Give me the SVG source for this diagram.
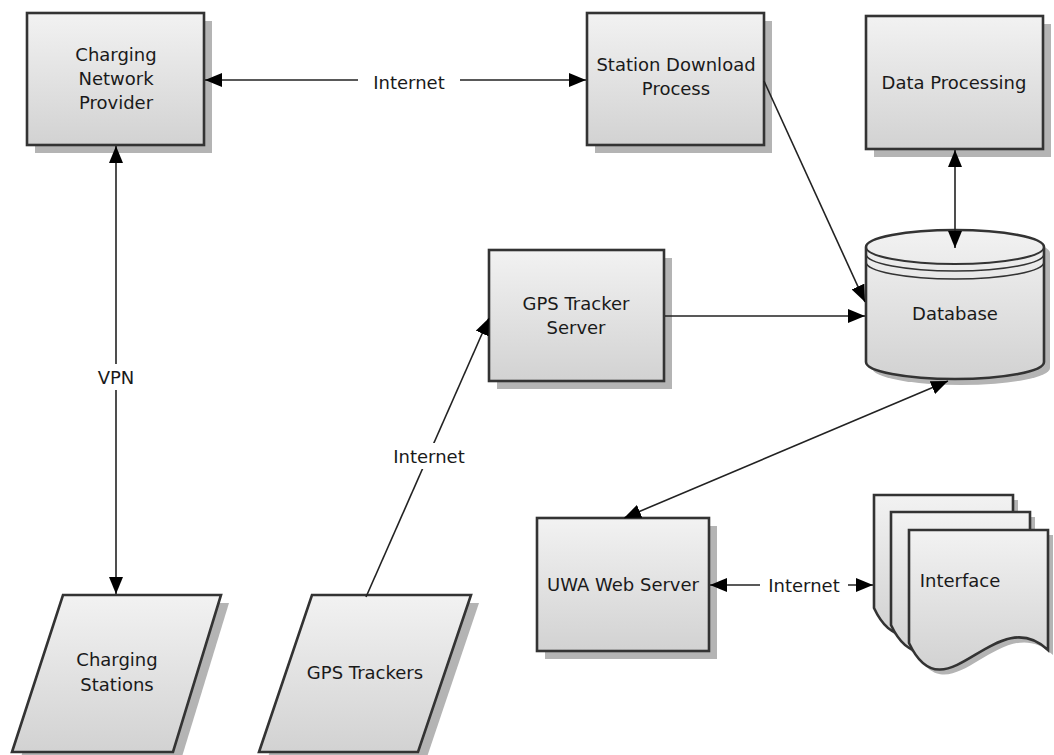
<svg xmlns="http://www.w3.org/2000/svg" width="1054" height="755" viewBox="0 0 1054 755">
<defs>
<linearGradient id="g" x1="0" y1="0" x2="0" y2="1">
<stop offset="0" stop-color="#f2f2f2"/>
<stop offset="1" stop-color="#d2d2d2"/>
</linearGradient>
<marker id="ah" markerUnits="userSpaceOnUse" markerWidth="17" markerHeight="14" viewBox="0 0 17 14" refX="17" refY="7" orient="auto-start-reverse">
<path d="M0,0 L17,7 L0,14 z" fill="#000"/>
</marker>
</defs>
<style>
.sh{fill:#b4b4b4;stroke:none}
.nd{fill:url(#g);stroke:#333;stroke-width:2.6}
.ln{fill:none;stroke:#222;stroke-width:1.6}
.t{font-family:"DejaVu Sans",Verdana,sans-serif;font-size:18px;fill:#1a1a1a;text-anchor:middle}
.bg{fill:#fff;stroke:none}
.dl{fill:none;stroke:#333;stroke-width:1.6}
</style>
<rect width="1054" height="755" fill="#fff"/>

<g id="charging-network-provider">
<rect class="sh" x="35" y="21" width="177" height="132"/>
<rect class="nd" x="27" y="13" width="177" height="132"/>
<text class="t" x="116" y="61">Charging</text>
<text class="t" x="116" y="85">Network</text>
<text class="t" x="116" y="109">Provider</text>
</g>

<g id="station-download-process">
<rect class="sh" x="595" y="21" width="177" height="132"/>
<rect class="nd" x="587" y="13" width="177" height="132"/>
<text class="t" x="676" y="71">Station Download</text>
<text class="t" x="676" y="95">Process</text>
</g>

<g id="data-processing">
<rect class="sh" x="874" y="24" width="177" height="133"/>
<rect class="nd" x="866" y="16" width="177" height="133"/>
<text class="t" x="954" y="89">Data Processing</text>
</g>

<g id="database">
<path class="sh" d="M872,253 V368 A89,17 0 0 0 1050,368 V253 A89,17 0 0 0 872,253 Z"/>
<path class="nd" d="M866,247 V362 A89,17 0 0 0 1044,362 V247 A89,17 0 0 0 866,247 Z"/>
<path class="dl" style="stroke-width:2" d="M866,247 A89,17 0 0 0 1044,247"/>
<path class="dl" d="M866,254 A89,17 0 0 0 1044,254"/>
<path class="dl" d="M866,262 A89,17 0 0 0 1044,262"/>
<text class="t" x="955" y="320">Database</text>
</g>

<g id="gps-tracker-server">
<rect class="sh" x="497" y="258" width="175" height="131"/>
<rect class="nd" x="489" y="250" width="175" height="131"/>
<text class="t" x="576" y="310">GPS Tracker</text>
<text class="t" x="576" y="334">Server</text>
</g>

<g id="uwa-web-server">
<rect class="sh" x="545" y="526" width="172" height="133"/>
<rect class="nd" x="537" y="518" width="172" height="133"/>
<text class="t" x="623" y="591">UWA Web Server</text>
</g>

<g id="interface">
<path class="sh" d="M879,500 H1018 V620 C969,570 915,690 879,613 Z"/>
<path class="nd" d="M874,495 H1013 V615 C964,565 910,685 874,608 Z"/>
<path class="sh" d="M896,517 H1035 V637 C986,587 932,707 896,630 Z"/>
<path class="nd" d="M891,512 H1030 V632 C981,582 927,702 891,625 Z"/>
<path class="sh" d="M914,535 H1053 V655 C1000,605 950,725 914,648 Z"/>
<path class="nd" d="M909,530 H1048 V650 C995,600 945,720 909,643 Z"/>
<text class="t" x="960" y="587">Interface</text>
</g>

<g id="charging-stations">
<path class="sh" d="M71,603 H229 L181,760 H20 Z"/>
<path class="nd" d="M63,595 H221 L173,752 H12 Z"/>
<text class="t" x="117" y="666">Charging</text>
<text class="t" x="117" y="691">Stations</text>
</g>

<g id="gps-trackers">
<path class="sh" d="M320,603 H479 L426,760 H267 Z"/>
<path class="nd" d="M312,595 H471 L418,752 H259 Z"/>
<text class="t" x="365" y="679">GPS Trackers</text>
</g>

<g id="connectors">
<line class="ln" x1="205" y1="80" x2="586" y2="80" marker-start="url(#ah)" marker-end="url(#ah)"/>
<rect class="bg" x="358" y="68" width="102" height="26"/>
<text class="t" x="409" y="89">Internet</text>

<line class="ln" x1="116" y1="146" x2="116" y2="594" marker-start="url(#ah)" marker-end="url(#ah)"/>
<rect class="bg" x="96" y="364" width="40" height="26"/>
<text class="t" x="116" y="384">VPN</text>

<line class="ln" x1="764" y1="81" x2="865" y2="302" marker-end="url(#ah)"/>
<line class="ln" x1="665" y1="316" x2="865" y2="316" marker-end="url(#ah)"/>
<line class="ln" x1="955" y1="150" x2="955" y2="248" marker-start="url(#ah)" marker-end="url(#ah)"/>
<line class="ln" x1="948" y1="381" x2="624" y2="518" marker-start="url(#ah)" marker-end="url(#ah)"/>

<line class="ln" x1="366" y1="597" x2="489" y2="318" marker-end="url(#ah)"/>
<rect class="bg" x="388" y="443" width="82" height="26"/>
<text class="t" x="429" y="463">Internet</text>

<line class="ln" x1="710" y1="585" x2="873" y2="585" marker-start="url(#ah)" marker-end="url(#ah)"/>
<rect class="bg" x="760" y="572" width="88" height="26"/>
<text class="t" x="804" y="592">Internet</text>
</g>
</svg>
